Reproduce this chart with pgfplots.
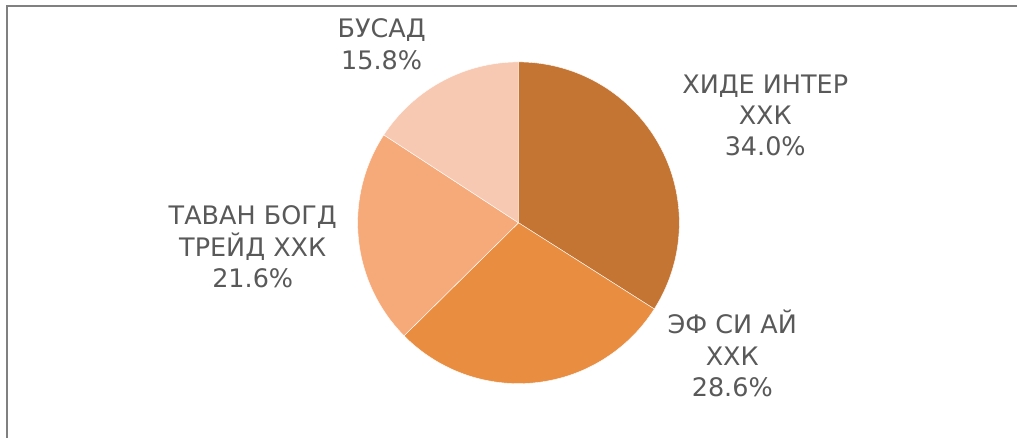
\documentclass[border=0pt]{standalone}
\usepackage{pgfplots}
\usepackage{pgfplotstable}
\pgfplotsset{compat=1.18}
\usepackage{fontspec}
\setmainfont{DejaVu Sans}
\definecolor{cA}{HTML}{C47533}
\definecolor{cB}{HTML}{E98D41}
\definecolor{cC}{HTML}{F7AA79}
\definecolor{cD}{HTML}{F8C9B2}
\definecolor{txt}{HTML}{595959}
\definecolor{frame}{HTML}{808080}
\pgfplotstableread{
slice value
1 34.0
2 28.6
3 21.6
4 15.8
}\piedata
\pgfplotstablegetelem{0}{value}\of\piedata \edef\va{\pgfplotsretval}
\pgfplotstablegetelem{1}{value}\of\piedata \edef\vb{\pgfplotsretval}
\pgfplotstablegetelem{2}{value}\of\piedata \edef\vc{\pgfplotsretval}
\pgfplotstablegetelem{3}{value}\of\piedata \edef\vd{\pgfplotsretval}
\pgfmathsetmacro\aA{90}
\pgfmathsetmacro\aB{\aA-3.6*\va}
\pgfmathsetmacro\aC{\aB-3.6*\vb}
\pgfmathsetmacro\aD{\aC-3.6*\vc}
\pgfmathsetmacro\aE{\aD-3.6*\vd}
\tikzset{lbl/.style={font=\fontsize{25.5bp}{31.5bp}\selectfont, text=txt, align=center, inner sep=0pt}}
\begin{document}%
\begin{tikzpicture}
\begin{axis}[
  width=1018bp, height=438bp, scale only axis,
  xmin=0, xmax=1018, ymin=0, ymax=438,
  hide axis, clip=false,
]
\addplot[draw=none, forget plot] coordinates {(0,0) (1018,438)};
\addplot[fill=cA, draw=white, line width=0.4bp, domain=\aB:\aA, samples=90, variable=\t] ({519+161*cos(\t)},{215+161*sin(\t)}) -- (axis cs:519,215) -- cycle;
\addplot[fill=cB, draw=white, line width=0.4bp, domain=\aC:\aB, samples=90, variable=\t] ({519+161*cos(\t)},{215+161*sin(\t)}) -- (axis cs:519,215) -- cycle;
\addplot[fill=cC, draw=white, line width=0.4bp, domain=\aD:\aC, samples=90, variable=\t] ({519+161*cos(\t)},{215+161*sin(\t)}) -- (axis cs:519,215) -- cycle;
\addplot[fill=cD, draw=white, line width=0.4bp, domain=\aE:\aD, samples=90, variable=\t] ({519+161*cos(\t)},{215+161*sin(\t)}) -- (axis cs:519,215) -- cycle;
\draw[frame, line width=2bp] (axis cs:1018,431.5) -- (axis cs:7.5,431.5) -- (axis cs:7.5,0);
\node[lbl] at (axis cs:766,322.5) {ХИДЕ ИНТЕР\\ХХК\\34.0\%};
\node[lbl] at (axis cs:733,84) {ЭФ СИ АЙ\\ХХК\\28.6\%};
\node[lbl] at (axis cs:253,191) {ТАВАН БОГД\\ТРЕЙД ХХК\\21.6\%};
\node[lbl] at (axis cs:382,393.5) {БУСАД\\15.8\%};
\end{axis}
\end{tikzpicture}%
\end{document}
